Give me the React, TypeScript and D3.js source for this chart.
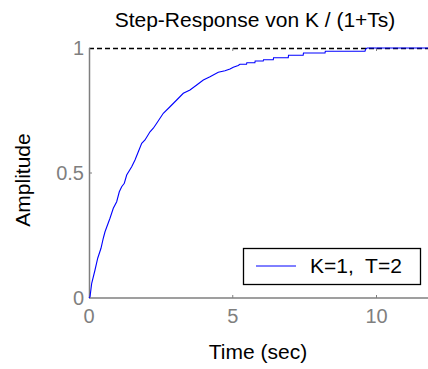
import React from "react";
import * as d3 from "d3";

const title = "Step-Response von K / (1+Ts)";
const xLabel = "Time (sec)";
const yLabel = "Amplitude";
const legendLabel = "K=1,  T=2";

const xTicks = [0, 5, 10];
const yTicks = [0, 0.5, 1];
const yTickLabels = ["0", "0.5", "1"];

const timeValues = [
  0, 0.035, 0.094, 0.209, 0.303, 0.417, 0.497, 0.557, 0.73, 0.845, 0.963, 1.054, 1.137, 1.228, 1.311,
  1.485, 1.6, 1.715, 1.833, 1.948, 2.122, 2.237, 2.355, 2.584, 2.817, 3.05, 3.28, 3.513, 3.746,
  3.976, 4.209, 4.497, 4.73, 4.904, 5.019, 5.19, 5.25, 5.48, 5.49, 5.77, 5.78, 6.06, 6.07, 6.41,
  6.42, 6.93, 6.94, 7.45, 7.46, 8.21, 8.22, 9.6, 9.62, 9.67, 12,
];
const amplitudeValues = [
  0, 0.005, 0.059, 0.112, 0.159, 0.199, 0.239, 0.265, 0.319, 0.359, 0.385, 0.425, 0.445, 0.459, 0.492,
  0.525, 0.552, 0.585, 0.619, 0.632, 0.665, 0.679, 0.699, 0.739, 0.765, 0.792, 0.819, 0.832, 0.852,
  0.872, 0.885, 0.903, 0.909, 0.916, 0.923, 0.93, 0.935, 0.935, 0.941, 0.941, 0.948, 0.948, 0.953, 0.953,
  0.961, 0.961, 0.971, 0.971, 0.98, 0.98, 0.987, 0.987, 0.995, 1.0, 1.0,
];

const W = 428;
const H = 369;
const font = "Arial, 'Liberation Sans', sans-serif";
const gray = "#7f7f7f";

export default function App() {
  const x = d3.scaleLinear().domain([0, 12]).range([89, 434]);
  const y = d3.scaleLinear().domain([0, 1]).range([298, 48]);
  const pts: [number, number][] = timeValues.map((t, i) => [t, amplitudeValues[i]]);
  const line = d3
    .line<[number, number]>()
    .x((d) => x(d[0]))
    .y((d) => y(d[1]));
  const x0 = x(0);
  const x1 = x(12);
  return (
    <svg
      width={W}
      height={H}
      style={{ position: "absolute", left: 0, top: 0, background: "#fff" }}
      fontFamily={font}
    >
      <rect x={0} y={0} width={W} height={H} fill="#fff" />
      {/* dashed reference at 1 */}
      <line x1={x0} x2={x1} y1={y(1) + 0.5} y2={y(1) + 0.5} stroke="#000" strokeWidth={1.3} strokeDasharray="5,3" />
      {/* axes */}
      <line x1={x0 + 0.5} x2={x0 + 0.5} y1={y(1)} y2={y(0)} stroke={gray} strokeWidth={1.5} />
      <line x1={x0} x2={x1} y1={y(0)} y2={y(0)} stroke={gray} strokeWidth={1.5} />
      {xTicks.slice(1).map((t) => (
        <g key={"xt" + t}>
          <line x1={x(t)} x2={x(t)} y1={y(0)} y2={y(0) - 3} stroke={gray} />
          <line x1={x(t)} x2={x(t)} y1={y(1)} y2={y(1) + 3} stroke={gray} />
        </g>
      ))}
      {yTicks.slice(1, 2).map((v) => (
        <line key={"yt" + v} x1={x0} x2={x0 + 3} y1={y(v)} y2={y(v)} stroke={gray} />
      ))}
      {xTicks.map((t) => (
        <text key={"xl" + t} x={x(t)} y={y(0) + 25} textAnchor="middle" fontSize={20} fill={gray}>
          {t}
        </text>
      ))}
      {yTicks.map((v, i) => (
        <text key={"yl" + v} x={84} y={y(v) + 7} textAnchor="end" fontSize={20} fill={gray}>
          {yTickLabels[i]}
        </text>
      ))}
      {/* curve */}
      <path d={line(pts) || ""} fill="none" stroke="#0000ff" strokeWidth={1.1} />
      {/* legend */}
      <rect x={243.5} y={248.5} width={177} height={36} fill="#fff" stroke="#000" strokeWidth={1.3} />
      <line x1={256} x2={296} y1={266} y2={266} stroke="#0000ff" strokeWidth={1} />
      <text x={310} y={273} fontSize={21} fill="#000" style={{ whiteSpace: "pre" }}>
        {legendLabel}
      </text>
      {/* labels */}
      <text x={255} y={27} textAnchor="middle" fontSize={21} fill="#000">
        {title}
      </text>
      <text x={258} y={359} textAnchor="middle" fontSize={21} fill="#000">
        {xLabel}
      </text>
      <text
        x={0}
        y={0}
        transform="translate(30,180) rotate(-90)"
        textAnchor="middle"
        fontSize={21}
        fill="#000"
      >
        {yLabel}
      </text>
    </svg>
  );
}
